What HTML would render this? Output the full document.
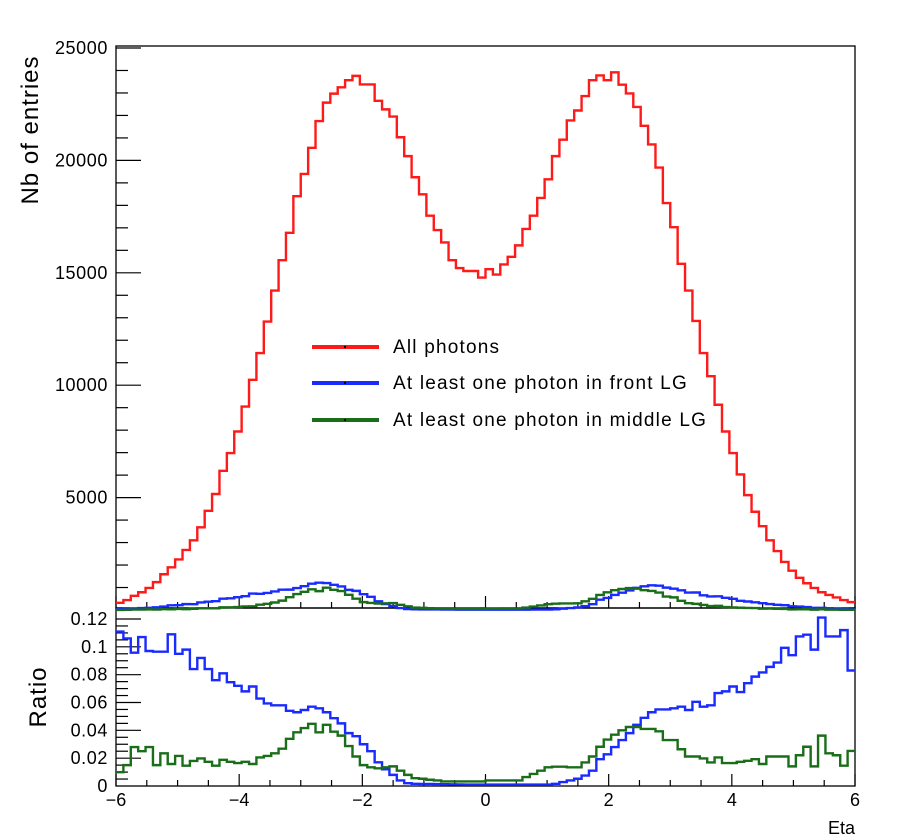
<!DOCTYPE html>
<html><head><meta charset="utf-8"><style>
html,body{margin:0;padding:0;background:#fff;}
svg{display:block;font-family:"Liberation Sans",Arial,sans-serif;}
</style></head><body>
<svg id="chart" width="900" height="840" viewBox="0 0 900 840" xmlns="http://www.w3.org/2000/svg"></svg>
<script>
const allPhotons = [0.32,0.44,0.63,0.79,0.98,1.24,1.59,1.90,2.25,2.67,3.10,3.68,4.41,5.16,6.19,6.98,7.94,9.05,10.24,11.43,12.83,14.21,15.56,16.78,18.41,19.40,20.56,21.75,22.57,22.97,23.25,23.57,23.76,23.38,23.38,22.65,22.27,21.95,21.03,20.19,19.25,18.49,17.54,16.9,16.35,15.56,15.21,15.08,15.08,14.79,15.16,14.92,15.37,15.71,16.22,16.95,17.54,18.33,19.16,20.19,20.92,21.78,22.22,22.86,23.57,23.78,23.57,23.92,23.37,22.98,22.38,21.54,20.71,19.68,18.10,17.03,15.40,14.21,12.86,11.43,10.40,9.13,7.94,6.98,6.03,5.11,4.37,3.73,3.10,2.62,2.14,1.75,1.43,1.19,0.98,0.79,0.67,0.56,0.44,0.35].map(v=>v*1000);
const ratioFront = [0.111,0.106,0.0958,0.107,0.097,0.0965,0.0965,0.109,0.095,0.098,0.084,0.092,0.084,0.076,0.081,0.0746,0.072,0.068,0.0715,0.0628,0.0593,0.058,0.058,0.054,0.053,0.0546,0.057,0.0558,0.053,0.0487,0.045,0.038,0.0358,0.030,0.025,0.017,0.012,0.008,0.004,0.002,0.0016,0.0015,0.0015,0.0014,0.0013,0.0012,0.0011,0.001,0.001,0.001,0.001,0.001,0.001,0.001,0.001,0.001,0.001,0.001,0.001,0.0016,0.0028,0.004,0.0052,0.0075,0.011,0.0193,0.0228,0.028,0.033,0.038,0.044,0.049,0.053,0.055,0.055,0.0558,0.057,0.0546,0.0605,0.057,0.058,0.0668,0.068,0.0715,0.0675,0.0739,0.0786,0.0816,0.0856,0.0887,0.0993,0.094,0.1075,0.1087,0.098,0.121,0.1075,0.1075,0.112,0.083];
const ratioMiddle = [0.0099,0.015,0.028,0.025,0.028,0.015,0.0235,0.0158,0.0216,0.0146,0.018,0.0198,0.0174,0.0146,0.0188,0.0174,0.0165,0.0174,0.0158,0.0205,0.0216,0.0235,0.0268,0.0339,0.0386,0.0416,0.0447,0.0386,0.044,0.039,0.0362,0.0287,0.0212,0.015,0.0134,0.0127,0.0134,0.0141,0.011,0.008,0.0056,0.0052,0.0045,0.004,0.0033,0.0033,0.0033,0.0033,0.0033,0.0033,0.004,0.004,0.004,0.004,0.004,0.0064,0.0087,0.011,0.0134,0.0139,0.0139,0.0134,0.0134,0.0169,0.0212,0.0282,0.0334,0.0369,0.04,0.0424,0.0424,0.041,0.041,0.0393,0.033,0.033,0.0264,0.0212,0.0212,0.0198,0.0169,0.0205,0.0165,0.0165,0.0174,0.0181,0.0193,0.0158,0.0212,0.0212,0.0212,0.0141,0.0221,0.0282,0.0141,0.0362,0.0235,0.0221,0.0146,0.0252];
const topYTicks = [5000,10000,15000,20000,25000];
const ratioYTicks = [0,0.02,0.04,0.06,0.08,0.1,0.12];
const ratioYLabels = ["0","0.02","0.04","0.06","0.08","0.1","0.12"];
const xTicks = [-6,-4,-2,0,2,4,6];
const xLabels = ["\u22126","\u22124","\u22122","0","2","4","6"];

const NS="http://www.w3.org/2000/svg";
const svg=document.getElementById('chart');
const L=116,R=855,T1=46,B1=608,T2=608,B2=786;
const xMin=-6,xMax=6;
const X=v=>L+(v-xMin)/(xMax-xMin)*(R-L);
const Y1=v=>610-v/25000*(610-48);
const Y2=v=>786-v/0.12*(786-619);
function el(t,a,p){const e=document.createElementNS(NS,t);for(const k in a)e.setAttribute(k,a[k]);(p||svg).appendChild(e);return e;}
function txt(s,a){const e=el('text',a);e.textContent=s;return e;}
function histPath(vals,Y){let d='';const w=(xMax-xMin)/vals.length;for(let i=0;i<vals.length;i++){const x0=X(xMin+i*w),x1=X(xMin+(i+1)*w),y=Y(vals[i]);d+=(i===0?'M':'L')+x0.toFixed(2)+','+y.toFixed(2)+'L'+x1.toFixed(2)+','+y.toFixed(2);}return d;}

let f=el('rect',{x:L,y:T1,width:R-L,height:B1-T1,fill:'none',stroke:'#000','stroke-width':1.3});

f=el('rect',{x:L,y:T2,width:R-L,height:B2-T2,fill:'none',stroke:'#000','stroke-width':1.3});


for(let v=1000;v<=25000;v+=1000){const y=Y1(v);const major=v%5000===0;el('line',{x1:L,x2:L+(major?25:12),y1:y,y2:y,stroke:'#000','stroke-width':1.2});}
topYTicks.forEach(v=>{const t=txt(String(v),{x:108,y:Y1(v)+6,'text-anchor':'end','font-size':18,'letter-spacing':0.6});});
for(let k=1;k<=24;k++){const v=k*0.005;const y=Y2(v);const major=k%4===0;el('line',{x1:L,x2:L+(major?25:12),y1:y,y2:y,stroke:'#000','stroke-width':1.2});}
ratioYTicks.forEach((v,i)=>{const t=txt(ratioYLabels[i],{x:108,y:Y2(v)+6,'text-anchor':'end','font-size':18,'letter-spacing':0.6});});
for(let k=0;k<=24;k++){const v=-6+k*0.5;const x=X(v);const major=k%4===0;
 el('line',{x1:x,x2:x,y1:B1,y2:B1-(major?12:6),stroke:'#000','stroke-width':1.2});
 el('line',{x1:x,x2:x,y1:B2,y2:B2-(major?12:6),stroke:'#000','stroke-width':1.2});}
xTicks.forEach((v,i)=>{const t=txt(xLabels[i],{x:X(v),y:806,'text-anchor':'middle','font-size':18});});

const front=allPhotons.map((v,i)=>v*ratioFront[i]);
const middle=allPhotons.map((v,i)=>v*ratioMiddle[i]);
let p=el('path',{d:histPath(allPhotons,Y1),fill:'none',stroke:'#ff1a1a','stroke-width':2.4});

p=el('path',{d:histPath(front,Y1),fill:'none',stroke:'#1a2bff','stroke-width':2.4});

p=el('path',{d:histPath(middle,Y1),fill:'none',stroke:'#1a6e1a','stroke-width':2.4});

p=el('path',{d:histPath(ratioFront,Y2),fill:'none',stroke:'#1a2bff','stroke-width':2.4});

p=el('path',{d:histPath(ratioMiddle,Y2),fill:'none',stroke:'#1a6e1a','stroke-width':2.4});


const leg=[["All photons","#ff1a1a",347],["At least one photon in front LG","#1a2bff",383],["At least one photon in middle LG","#1a6e1a",420]];
leg.forEach(l=>{const g=el('g',{});
 el('line',{x1:312,x2:379,y1:l[2],y2:l[2],stroke:l[1],'stroke-width':4},g);
 el('circle',{cx:345,cy:l[2],r:1.2,fill:'#000'},g);
 const t=el('text',{x:393,y:l[2]+6,'font-size':19,'letter-spacing':1.2},g);t.textContent=l[0];});

let t=txt("Nb of entries",{x:0,y:0,'font-size':24,'letter-spacing':1,'text-anchor':'middle',transform:'translate(38,130) rotate(-90)'});

t=txt("Ratio",{x:0,y:0,'font-size':24,'letter-spacing':1,'text-anchor':'middle',transform:'translate(46,697) rotate(-90)'});

t=txt("Eta",{x:855,y:834,'font-size':18,'text-anchor':'end'});

</script>
</body></html>
